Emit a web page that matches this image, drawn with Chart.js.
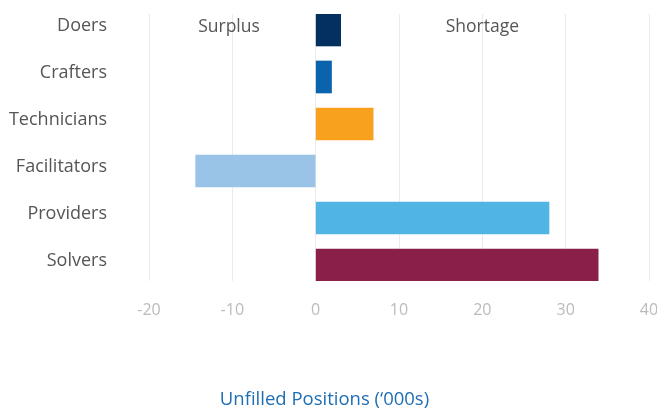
<!DOCTYPE html>
<html>
<head>
<meta charset="utf-8">
<script src="https://cdn.jsdelivr.net/npm/chart.js@4/dist/chart.umd.min.js"></script>
<style>
  html, body { margin: 0; padding: 0; background: #ffffff; overflow: hidden; }
  #wrap { position: relative; width: 657px; height: 409px; }
</style>
</head>
<body>
<div id="wrap"><canvas id="c"></canvas></div>
<script>
// ---- data ----
const categories = ["Doers", "Crafters", "Technicians", "Facilitators", "Providers", "Solvers"];
const values = [3.0, 1.9, 6.9, -14.4, 28.0, 33.9];
const barColors = ["#03305F", "#0A63AC", "#F7A11F", "#9AC3E8", "#50B5E2", "#8A2049"];
const xTicks = [-20, -10, 0, 10, 20, 30, 40];
const sideLabels = ["Surplus", "Shortage"];
const sideLabelValues = [-10.4, 20];
const axisTitle = "Unfilled Positions (\u2018000s)";

const FONT = "'Open Sans', 'Noto Sans', sans-serif";

const sideLabelPlugin = {
  id: 'sideLabels',
  afterDatasetsDraw(chart) {
    const ctx = chart.ctx;
    const xs = chart.scales.x, ys = chart.scales.y;
    ctx.save();
    ctx.font = "17.5px " + FONT;
    ctx.fillStyle = "#555555";
    ctx.textAlign = "center";
    ctx.textBaseline = "middle";
    sideLabels.forEach((t, i) => {
      ctx.fillText(t, xs.getPixelForValue(sideLabelValues[i]), ys.getPixelForValue(0) - 3);
    });
    ctx.restore();
  }
};

new Chart(document.getElementById('c'), {
  type: 'bar',
  data: {
    datasets: [{
      data: categories.map((c, i) => ({ x: values[i], y: i })),
      backgroundColor: barColors,
      borderWidth: 0,
      barThickness: 32
    }]
  },
  options: {
    indexAxis: 'y',
    responsive: true,
    maintainAspectRatio: false,
    animation: false,
    layout: { padding: { top: 14, right: 8, left: 0, bottom: 0 } },
    plugins: {
      legend: { display: false },
      tooltip: { enabled: false },
      title: {
        display: true,
        position: 'bottom',
        text: axisTitle,
        color: '#1F6EB4',
        font: { family: FONT, size: 18.5, weight: 'normal', lineHeight: 1.0 },
        padding: { top: 49.5, bottom: 0 }
      }
    },
    scales: {
      x: {
        type: 'linear',
        min: -20,
        max: 40,
        afterBuildTicks: s => { s.ticks = xTicks.map(v => ({ value: v })); },
        afterFit: s => { s.paddingRight = 0; s.paddingLeft = 0; s.height = 60; },
        grid: { color: '#EBEBEB', drawTicks: false },
        border: { display: false },
        ticks: { color: '#BBBBBB', padding: 20, font: { family: FONT, size: 16 } }
      },
      y: {
        type: 'linear',
        reverse: true,
        offset: false,
        min: -0.34,
        max: 5.34,
        afterBuildTicks: s => { s.ticks = categories.map((c, i) => ({ value: i })); },
        afterFit: s => { s.width = 149; s.paddingTop = 0; s.paddingBottom = 0; },
        grid: { display: false, drawTicks: false, offset: false },
        border: { display: false },
        ticks: {
          color: '#555555',
          padding: 42,
          labelOffset: -4,
          font: { family: FONT, size: 18 },
          callback: v => categories[v]
        }
      }
    }
  },
  plugins: [sideLabelPlugin]
});
</script>
</body>
</html>
